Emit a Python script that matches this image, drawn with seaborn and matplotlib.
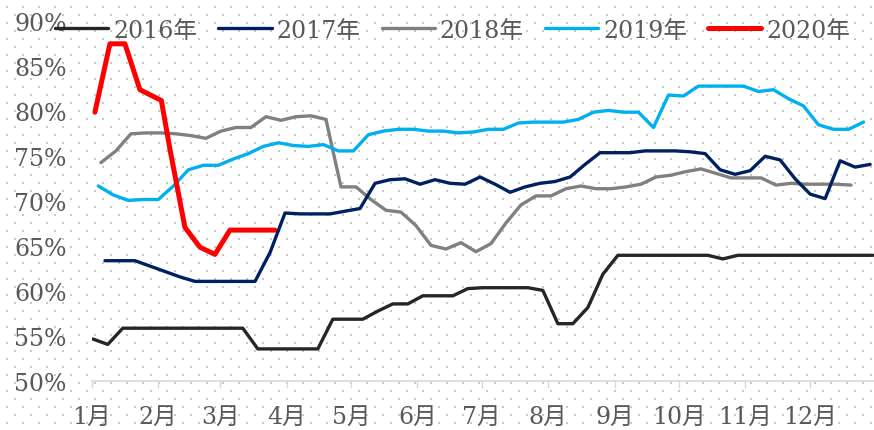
import numpy as np
import pandas as pd
import matplotlib
matplotlib.use('Agg')
import matplotlib.pyplot as plt
import seaborn as sns

# --- dados (dia do ano, taxa semanal %) ---
v2016 = [54.7, 54.1, 55.9, 55.9, 55.9, 55.9, 55.9, 55.9, 55.9, 55.9, 55.9,
         53.6, 53.6, 53.6, 53.6, 53.6, 56.9, 56.9, 56.9, 57.8, 58.6, 58.6,
         59.5, 59.5, 59.5, 60.3, 60.4, 60.4, 60.4, 60.4, 60.1, 56.4, 56.4,
         58.2, 61.9, 64.0, 64.0, 64.0, 64.0, 64.0, 64.0, 64.0, 63.6, 64.0,
         64.0, 64.0, 64.0, 64.0, 64.0, 64.0, 64.0, 64.0, 64.0]
v2017 = [63.4, 63.4, 63.4, 62.8, 62.2, 61.6, 61.1, 61.1, 61.1, 61.1, 61.1,
         64.3, 68.7, 68.6, 68.6, 68.6, 68.9, 69.2, 72.0, 72.4, 72.5, 71.9,
         72.4, 72.0, 71.9, 72.7, 71.9, 71.0, 71.6, 72.0, 72.2, 72.7, 74.1,
         75.4, 75.4, 75.4, 75.6, 75.6, 75.6, 75.5, 75.3, 73.5, 73.0, 73.4,
         75.0, 74.6, 72.5, 70.8, 70.3, 74.5, 73.8, 74.1]
v2018 = [74.3, 75.6, 77.5, 77.6, 77.6, 77.5, 77.3, 77.0, 77.8, 78.2, 78.2,
         79.4, 79.0, 79.4, 79.5, 79.1, 71.6, 71.6, 70.2, 69.0, 68.8, 67.3,
         65.1, 64.7, 65.4, 64.4, 65.3, 67.6, 69.6, 70.6, 70.6, 71.4, 71.7,
         71.4, 71.4, 71.6, 71.9, 72.7, 72.9, 73.3, 73.6, 73.1, 72.6, 72.6,
         72.6, 71.8, 72.0, 71.9, 71.9, 71.9, 71.8]
v2019 = [71.7, 70.7, 70.1, 70.2, 70.2, 71.7, 73.5, 74.0, 74.0, 74.7, 75.3,
         76.1, 76.5, 76.2, 76.1, 76.3, 75.6, 75.6, 77.4, 77.8, 78.0, 78.0,
         77.8, 77.8, 77.6, 77.7, 78.0, 78.0, 78.7, 78.8, 78.8, 78.8, 79.1,
         79.9, 80.1, 79.9, 79.9, 78.2, 81.8, 81.7, 82.8, 82.8, 82.8, 82.8,
         82.2, 82.4, 81.4, 80.6, 78.5, 78.0, 78.0, 78.8]
d2020 = [1.5, 8.5, 15.5, 22.5, 32.5, 36.5, 43.5, 50.5, 57.5, 64.5, 71.5, 78.5, 85.5]
v2020 = [79.9, 87.5, 87.5, 82.4, 81.2, 75.8, 67.1, 64.9, 64.1, 66.8, 66.8, 66.8, 66.8]

# primeiro dia de cada série semanal
inicio = {'2016年': 0.5, '2017年': 6.2, '2018年': 4.3, '2019年': 3.1}

meses_dias = [0, 31, 60, 91, 121, 152, 182, 213, 244, 274, 305, 335]
meses_labels = ['1月', '2月', '3月', '4月', '5月', '6月', '7月', '8月', '9月',
                '10月', '11月', '12月']
y_ticks = [50, 55, 60, 65, 70, 75, 80, 85, 90]

cores = {'2016年': '#262626', '2017年': '#002060', '2018年': '#808080',
         '2019年': '#00B0F0', '2020年': '#FF0000'}

series = {'2016年': v2016, '2017年': v2017, '2018年': v2018, '2019年': v2019}

sns.set_theme(style='white')
plt.rcParams['font.family'] = ['DejaVu Serif', 'Noto Sans CJK SC']
texto = '#595959'

fig = plt.figure(figsize=(8.74, 4.31), dpi=100)

# fundo pontilhado (padrão de pontos do Excel)
bg = np.ones((431, 874, 3))
cinza = 200 / 255
for dy in (0, 1):
    for dx in (0, 1):
        bg[15 + dy::16, 14 + dx::16] = cinza
        bg[7 + dy::16, 6 + dx::16] = cinza
fig.figimage(bg, 0, 0, origin='upper', zorder=-10)

ax = fig.add_axes([91.7 / 874, 1 - 382.3 / 431, 782.3 / 874, 360 / 431])
ax.patch.set_alpha(0)

ordem_z = {'2016年': 2.0, '2017年': 2.4, '2018年': 2.1, '2019年': 2.2}
for nome, vals in series.items():
    dias = inicio[nome] + 7 * np.arange(len(vals))
    sns.lineplot(x=dias, y=vals, ax=ax, color=cores[nome], lw=2.4,
                 label=nome, zorder=ordem_z[nome], solid_capstyle='round')
sns.lineplot(x=d2020, y=v2020, ax=ax, color=cores['2020年'], lw=3.6,
             label='2020年', zorder=2.3, solid_capstyle='round')

if ax.get_legend() is not None:
    ax.get_legend().remove()

ax.set_xlim(0, 365)
ax.set_ylim(50, 90)
ax.set_xticks(meses_dias)
ax.set_xticklabels(meses_labels)
ax.set_yticks(y_ticks)
ax.set_yticklabels([f'{v}%' for v in y_ticks])
ax.set_xlabel('')
ax.set_ylabel('')
ax.grid(False)

for s in ['left', 'top', 'right']:
    ax.spines[s].set_visible(False)
ax.spines['bottom'].set_color('#d9d9d9')
ax.spines['bottom'].set_linewidth(1.2)

ax.tick_params(axis='x', bottom=True, length=5, width=1, color='#d9d9d9',
               pad=12, labelsize=17, labelcolor=texto)
ax.tick_params(axis='y', left=False, length=0, pad=18, labelsize=17,
               labelcolor=texto)

handles, labels = ax.get_legend_handles_labels()
fig.legend(handles, labels, loc='center', bbox_to_anchor=(0.518, 0.928),
           ncol=5, frameon=False, fontsize=17, handlelength=2.25,
           handletextpad=0.21, columnspacing=0.9, labelcolor=texto)

plt.savefig('out.png', dpi=100)
